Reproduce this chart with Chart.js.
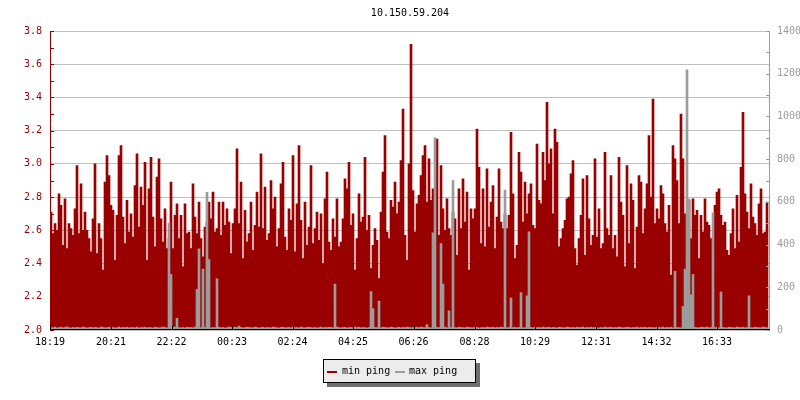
<!DOCTYPE html>
<html>
<head>
<meta charset="utf-8">
<script src="https://cdn.jsdelivr.net/npm/chart.js@4.4.1/dist/chart.umd.min.js"></script>
<style>
  html, body { margin: 0; padding: 0; background: #ffffff; }
  #wrap { position: relative; width: 800px; height: 400px; overflow: hidden; font-family: "DejaVu Sans Mono", monospace; }
  #c { position: absolute; left: 0; top: 0; }
  #title { position: absolute; left: 50px; width: 720px; top: 7px; text-align: center; font-size: 10px; line-height: 12px; color: #000; }
  #legend { position: absolute; left: 323px; top: 359px; width: 153px; height: 24px; box-sizing: border-box;
            border: 1px solid #000; background: #ececec; box-shadow: 4px 4px 0 #6e6e6e; }
  .sw { position: absolute; width: 10px; height: 2px; top: 11px; }
  .lt { position: absolute; top: 5px; font-size: 10px; line-height: 12px; color: #000; white-space: pre; }
</style>
</head>
<body>
<div id="wrap">
  <canvas id="c" width="800" height="400"></canvas>
  <div id="title">10.150.59.204</div>
  <div id="legend">
    <div class="sw" style="left:3px;background:#990000"></div><div class="lt" style="left:18px">min ping</div>
    <div class="sw" style="left:71px;background:#9c9c9c"></div><div class="lt" style="left:85px">max ping</div>
  </div>
</div>
<script>
// ---- data ----
const tickLabels = ['18:19','20:21','22:22','00:23','02:24','04:25','06:26','08:28','10:29','12:31','14:32','16:33'];
const sampleStepMinutes = 4;   // one sample every 4 minutes, first sample at 18:19

const minPing = [
  2.71,2.58,2.64,2.60,2.82,2.75,2.51,2.79,2.49,2.64,2.61,2.57,2.73,2.99,2.58,2.88,2.60,2.71,2.60,2.55,
  2.47,2.67,3.00,2.46,2.64,2.55,2.36,2.89,3.05,2.93,2.75,2.72,2.42,2.69,3.05,3.11,2.68,2.52,2.78,2.59,
  2.70,2.56,2.87,3.06,2.62,2.86,2.75,3.01,2.42,2.85,3.04,2.68,2.50,2.92,3.03,2.67,2.53,2.73,2.49,
  2.55,2.89,2.49,2.69,2.76,2.55,2.69,2.38,2.76,2.58,2.59,2.49,2.88,2.68,2.58,2.77,2.55,2.44,2.62,2.65,
  2.77,2.67,2.83,2.59,2.61,2.77,2.57,2.77,2.63,2.73,2.65,2.46,2.64,2.73,3.09,2.64,2.89,2.43,2.72,2.53,
  2.58,2.77,2.48,2.63,2.83,2.62,3.06,2.61,2.86,2.54,2.58,2.90,2.73,2.80,2.50,2.61,2.88,3.01,2.56,2.48,
  2.73,2.66,3.05,2.47,2.76,3.11,2.66,2.43,2.77,2.51,2.62,2.99,2.52,2.61,2.71,2.54,2.70,2.40,2.79,2.95,
  2.53,2.48,2.67,2.56,2.79,2.50,2.53,2.67,2.91,2.85,3.01,2.63,2.70,2.36,2.55,2.82,2.65,2.68,3.04,2.60,
  2.69,2.37,2.51,2.61,2.54,2.31,2.71,2.95,3.17,2.59,2.55,2.78,2.74,2.89,2.70,2.77,3.02,3.33,2.57,2.42,
  3.00,3.72,2.84,2.59,2.76,2.81,2.93,3.05,3.11,2.77,3.03,2.78,2.85,2.65,3.15,2.57,2.99,2.73,2.60,2.79,
  2.61,2.57,2.71,2.67,2.45,2.85,2.61,2.91,2.65,2.83,2.36,2.73,2.67,2.73,3.21,2.98,2.52,2.85,2.50,2.97,
  2.62,2.77,2.87,2.49,2.68,2.97,2.65,2.61,2.70,2.61,2.69,3.19,2.82,2.43,2.51,3.07,2.95,2.65,2.89,2.70,
  2.82,2.88,2.63,2.61,3.12,2.78,2.76,3.07,2.90,3.37,3.00,3.09,2.70,3.21,3.13,2.50,2.55,2.61,2.66,2.79,
  2.80,2.94,3.02,2.49,2.39,2.55,2.69,2.91,2.45,2.93,2.67,2.51,2.57,3.03,2.56,2.73,2.49,2.52,3.07,2.61,
  2.57,2.93,2.49,2.57,2.44,3.04,2.77,2.69,2.38,2.99,2.52,2.88,2.78,2.37,2.62,2.93,2.89,2.58,2.73,2.88,
  3.17,2.80,3.39,2.64,2.73,2.67,2.87,2.82,2.64,2.59,2.75,2.33,3.11,3.03,2.90,2.64,3.30,3.03,2.70,2.57,
  2.78,2.55,2.79,2.69,2.72,2.43,2.69,2.59,2.79,2.65,2.63,2.55,2.55,2.75,2.83,2.85,2.69,2.63,2.65,2.48,
  2.45,2.58,2.73,2.49,2.81,2.53,2.98,3.31,2.82,2.71,2.61,2.88,2.68,2.64,2.57,2.76,2.85,2.58,2.59,2.77
];

const maxPing = [
  12,10,14,9,11,13,10,12,15,11,9,12,10,13,11,10,14,12,9,11,
  13,10,12,11,9,14,12,10,11,13,10,12,9,11,14,10,12,11,13,10,
  11,12,10,14,9,12,11,13,10,12,11,9,13,12,10,11,14,12,10,500,
  260,12,14,55,11,10,12,9,13,11,12,10,14,190,380,11,285,12,645,330,
  10,12,11,240,13,10,12,9,11,14,12,10,13,11,18,12,10,11,13,12,
  11,10,14,12,9,11,13,10,12,11,10,14,12,11,9,12,13,10,11,12,
  10,13,11,12,9,14,11,10,12,13,11,10,12,9,11,14,10,12,11,13,
  12,10,215,14,11,10,12,13,9,11,12,10,14,11,13,10,12,11,9,12,
  180,100,12,11,135,10,13,12,11,10,14,12,9,11,13,10,12,11,14,12,
  10,12,11,13,10,14,12,11,25,12,10,455,900,12,11,405,215,13,10,90,
  12,700,11,10,13,12,11,10,14,12,11,10,13,12,9,11,12,10,14,12,
  11,13,10,12,11,14,12,655,10,12,150,11,13,10,12,175,11,10,160,460,
  12,10,13,11,12,10,14,11,12,13,10,12,11,9,13,12,11,10,14,12,
  11,12,10,13,11,12,14,10,12,11,13,10,12,11,9,12,10,14,11,12,
  13,10,12,11,14,12,10,11,13,12,10,12,11,14,10,12,11,13,10,12,
  11,12,10,13,12,11,14,10,12,11,13,10,275,12,11,10,110,285,1218,613,
  165,260,12,11,10,13,12,11,14,10,12,548,11,13,10,178,12,11,10,13,
  12,11,10,14,12,11,13,10,12,160,11,10,13,12,11,10,14,12,11
];

// ---- derived ----
const RED = '#990000', GREY = '#9c9c9c', FONT = '"DejaVu Sans Mono", monospace';
function toMin(s) { const [h, m] = s.split(':').map(Number); return h * 60 + m; }
const start = toMin(tickLabels[0]);
const tickMinutes = tickLabels.map(s => ((toMin(s) - start) + 1440) % 1440);
const sampleTimes = minPing.map((_, i) => i * sampleStepMinutes + sampleStepMinutes / 2);
const spanMinutes = 1440;

const axisMarks = {
  id: 'axisMarks',
  afterDatasetsDraw(chart) {
    const { ctx, chartArea: a, scales } = chart;
    ctx.save();
    ctx.lineWidth = 1;
    // left axis (red) with ticks every 0.1
    ctx.strokeStyle = RED;
    ctx.beginPath(); ctx.moveTo(a.left + 0.5, a.top); ctx.lineTo(a.left + 0.5, a.bottom); ctx.stroke();
    for (let k = 20; k <= 38; k++) {
      const y = Math.round(scales.y.getPixelForValue(k / 10)) + 0.5;
      ctx.beginPath(); ctx.moveTo(a.left, y); ctx.lineTo(a.left + 4, y); ctx.stroke();
    }
    // right axis (grey) with ticks every 100
    ctx.strokeStyle = GREY;
    ctx.beginPath(); ctx.moveTo(a.right - 0.5, a.top); ctx.lineTo(a.right - 0.5, a.bottom); ctx.stroke();
    for (let v = 0; v <= 1400; v += 100) {
      const y = Math.round(scales.y1.getPixelForValue(v)) + 0.5;
      ctx.beginPath(); ctx.moveTo(a.right - 4, y); ctx.lineTo(a.right, y); ctx.stroke();
    }
    // bottom axis (black) with ticks at label positions
    ctx.strokeStyle = '#000';
    ctx.beginPath(); ctx.moveTo(a.left, a.bottom - 0.5); ctx.lineTo(a.right, a.bottom - 0.5); ctx.stroke();
    tickMinutes.forEach(m => {
      const x = Math.round(scales.x.getPixelForValue(m)) + 0.5;
      ctx.beginPath(); ctx.moveTo(x, a.bottom); ctx.lineTo(x, a.bottom - 4); ctx.stroke();
    });
    ctx.restore();
  }
};

new Chart(document.getElementById('c'), {
  type: 'bar',
  data: {
    datasets: [
      {
        label: 'max ping',
        data: maxPing.map((v, i) => ({ x: sampleTimes[i], y: v })),
        yAxisID: 'y1',
        backgroundColor: GREY,
        borderWidth: 0,
        barPercentage: 1, categoryPercentage: 1,
        grouped: false,
        order: 0
      },
      {
        label: 'min ping',
        data: minPing.map((v, i) => ({ x: sampleTimes[i], y: v })),
        yAxisID: 'y',
        backgroundColor: RED,
        borderWidth: 0,
        barPercentage: 1, categoryPercentage: 1,
        grouped: false,
        order: 1
      }
    ]
  },
  options: {
    responsive: false,
    animation: false,
    devicePixelRatio: 1,
    layout: { padding: { top: 31, left: 0, right: 0, bottom: 0 } },
    plugins: { legend: { display: false }, title: { display: false }, tooltip: { enabled: false } },
    scales: {
      x: {
        type: 'linear',
        min: 0, max: spanMinutes,
        offset: false,
        grid: { display: false, drawTicks: false },
        border: { display: false },
        afterBuildTicks: s => { s.ticks = tickMinutes.map(v => ({ value: v })); },
        afterFit: s => { s.height = 70; },
        ticks: {
          autoSkip: false, maxRotation: 0, padding: 6,
          color: '#000', font: { family: FONT, size: 10 },
          callback: (v, i) => tickLabels[i]
        }
      },
      y: {
        position: 'left',
        min: 2.0, max: 3.8,
        grid: { color: '#c0c0c0', drawTicks: false, lineWidth: 1 },
        border: { display: false },
        afterFit: s => { s.width = 50; },
        ticks: {
          stepSize: 0.2, padding: 8,
          color: RED, font: { family: FONT, size: 10 },
          callback: v => Number(v).toFixed(1)
        }
      },
      y1: {
        position: 'right',
        min: 0, max: 1400,
        grid: { display: false, drawTicks: false },
        border: { display: false },
        afterFit: s => { s.width = 30; },
        ticks: {
          stepSize: 200, padding: 7,
          color: GREY, font: { family: FONT, size: 10 },
          callback: v => String(Math.round(v))
        }
      }
    }
  },
  plugins: [axisMarks]
});
</script>
</body>
</html>
